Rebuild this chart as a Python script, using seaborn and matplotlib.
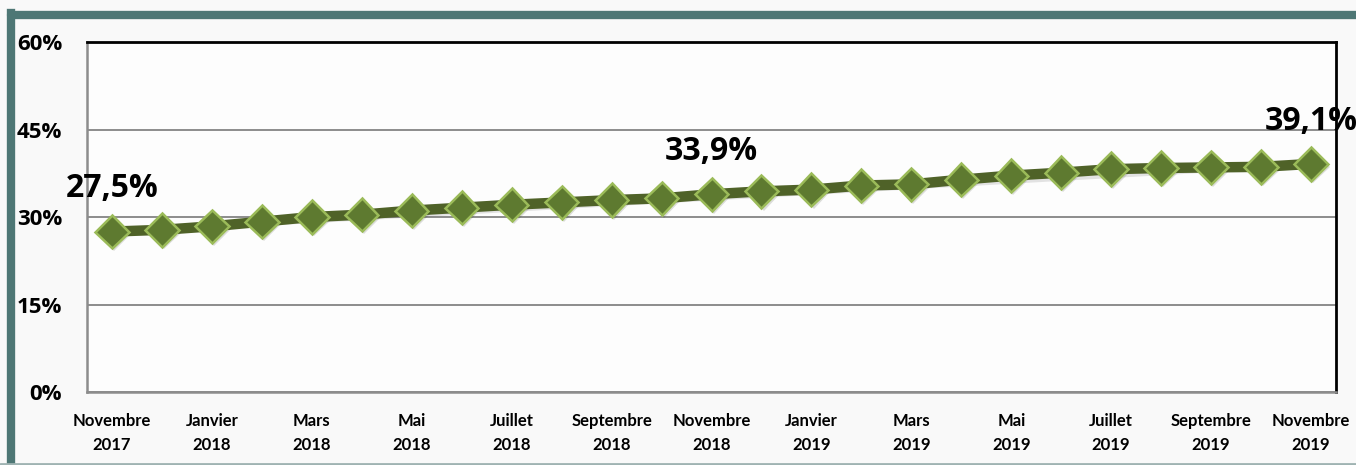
import numpy as np
import pandas as pd
import seaborn as sns
import matplotlib.pyplot as plt
from matplotlib.lines import Line2D
import matplotlib.patheffects as pe

months = ["Novembre", "Décembre", "Janvier", "Février", "Mars", "Avril", "Mai", "Juin",
          "Juillet", "Août", "Septembre", "Octobre"]
years = [2017, 2017, 2018, 2018, 2018, 2018, 2018, 2018, 2018, 2018, 2018, 2018,
         2018, 2018, 2019, 2019, 2019, 2019, 2019, 2019, 2019, 2019, 2019, 2019, 2019]
month_names = [months[i % 12] for i in range(25)]
values = [27.5, 27.8, 28.4, 29.2, 30.0, 30.4, 31.1, 31.6, 32.1, 32.5, 32.9, 33.2, 33.9,
          34.4, 34.7, 35.4, 35.6, 36.4, 37.1, 37.6, 38.2, 38.4, 38.5, 38.6, 39.1]
labelled = {0: "27,5%", 12: "33,9%", 24: "39,1%"}
yticks = [0, 15, 30, 45, 60]

df = pd.DataFrame({"pos": np.arange(len(values)), "val": values})

sns.set_style("white")
plt.rcParams['font.family'] = ['Open Sans', 'DejaVu Sans']
plt.rcParams['text.color'] = 'black'
plt.rcParams['xtick.color'] = 'black'
plt.rcParams['ytick.color'] = 'black'

fig = plt.figure(figsize=(13.56, 4.65), dpi=100, facecolor="#f9f9f9")
ax = fig.add_axes([87 / 1356, 73 / 465, 1249 / 1356, 350 / 465])
ax.set_facecolor("#fdfdfd")

sns.lineplot(data=df, x="pos", y="val", ax=ax, color="#4f6228", linewidth=7.5,
             marker="D", markersize=17, markerfacecolor="#5e7a30",
             markeredgecolor="#9bbb59", markeredgewidth=1.8, zorder=3,
             path_effects=[pe.SimplePatchShadow(offset=(1.5, -2), alpha=0.15), pe.Normal()])

ax.set_xlim(-0.5, len(values) - 0.5)
ax.set_ylim(0, 60)
ax.set_yticks(yticks)
ax.set_yticklabels([f"{t}%" for t in yticks], fontsize=16, fontweight="bold")
ax.yaxis.grid(True, color="#8c8c8c", linewidth=1.4)
ax.set_axisbelow(True)

# category labels every two months, tick marks between categories
ax.set_xticks(np.arange(0, len(values), 2))
ax.set_xticklabels([f"{month_names[i]}\n{years[i]}" for i in range(0, len(values), 2)],
                   fontsize=12, fontweight="bold", linespacing=1.6,
                   family=["Lato", "DejaVu Sans"])
ax.set_xticks(np.arange(-0.5, len(values), 1), minor=True)
ax.tick_params(axis="x", which="major", length=0, pad=15, colors="black")
ax.tick_params(axis="x", which="minor", length=6, color="#8c8c8c", width=1.2)
ax.tick_params(axis="y", length=8, color="#8c8c8c", width=1.2, pad=10, labelcolor="black")
ax.set_xlabel("")
ax.set_ylabel("")

for s in ["left", "bottom"]:
    ax.spines[s].set_color("#8c8c8c")
    ax.spines[s].set_linewidth(1.8)
for s in ["top", "right"]:
    ax.spines[s].set_color("black")
    ax.spines[s].set_linewidth(2)

for i, txt in labelled.items():
    ax.annotate(txt, (i, values[i]), xytext=(0, 19), textcoords="offset points",
                ha="center", va="bottom", fontsize=23, fontweight="bold", color="black")

# frame around the slide
fig.add_artist(Line2D([11 / 1356, 11 / 1356], [0, 1 - 13 / 465], color="#4e7775",
                      linewidth=6, transform=fig.transFigure, solid_capstyle="projecting"))
fig.add_artist(Line2D([11 / 1356, 1], [1 - 15 / 465, 1 - 15 / 465], color="#4e7775",
                      linewidth=6, transform=fig.transFigure))
fig.add_artist(Line2D([0, 1], [1.5 / 465, 1.5 / 465], color="#9fb3b2",
                      linewidth=2, transform=fig.transFigure))

fig.savefig("out.png", dpi=100, facecolor=fig.get_facecolor())
